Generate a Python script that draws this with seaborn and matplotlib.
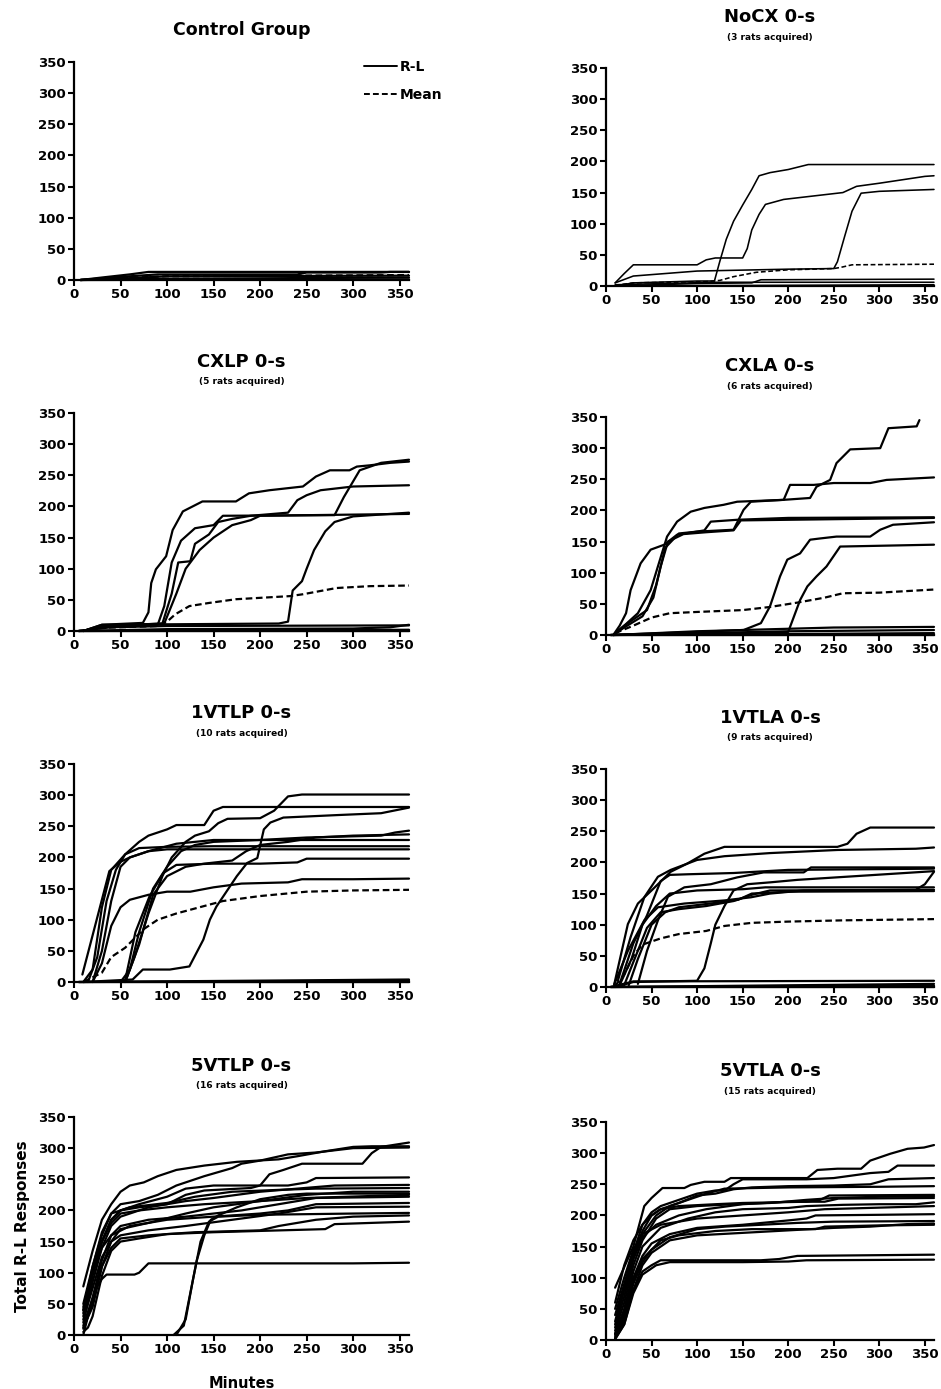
import matplotlib
matplotlib.use("Agg")
import matplotlib.pyplot as plt
from matplotlib.lines import Line2D
import pandas as pd
import seaborn as sns

# ---------------------------------------------------------------------------
# Cumulative R-L responses per rat (minutes, total responses) and group means
# ---------------------------------------------------------------------------
CONTROL_RATS = [
    ([7, 30, 60, 80, 360], [0, 4, 9, 13, 13]),
    ([7, 50, 90, 240, 250, 330, 340, 360], [0, 5, 9, 9, 12, 12, 13, 13]),
    ([7, 60, 100, 360], [0, 3, 6, 7]),
    ([7, 100, 360], [0, 2, 4]),
    ([7, 360], [0, 1]),
]
CONTROL_MEAN = ([7, 50, 100, 250, 360], [0, 3, 6, 7, 8])

NOCX_RATS = [
    ([10, 30, 100, 119, 125, 132, 140, 150, 160, 168, 180, 200, 222, 270, 360],
     [0, 5, 8, 8, 40, 75, 104, 130, 155, 177, 182, 187, 195, 195, 195]),
    ([10, 20, 30, 60, 100, 110, 120, 150, 155, 160, 168, 175, 195, 260, 275, 300, 350, 360],
     [5, 20, 34, 34, 34, 42, 45, 45, 60, 90, 115, 131, 139, 150, 160, 165, 176, 177]),
    ([10, 30, 100, 200, 250, 254, 262, 270, 280, 300, 360],
     [5, 16, 24, 27, 28, 39, 80, 120, 149, 152, 155]),
    ([10, 100, 160, 170, 360], [0, 4, 5, 10, 11]),
    ([10, 120, 360], [2, 6, 6]),
    ([10, 360], [0, 2]),
]
NOCX_MEAN = ([10, 30, 110, 125, 140, 165, 200, 250, 258, 270, 360],
             [1, 5, 7, 9, 15, 22, 26, 28, 30, 34, 35])

CXLP_RATS = [
    ([10, 30, 74, 80, 83, 88, 99, 106, 117, 138, 174, 188, 210, 246, 260, 275, 296, 304, 318, 340, 360],
     [0, 10, 13, 30, 77, 99, 120, 162, 192, 208, 208, 221, 226, 232, 248, 258, 258, 264, 266, 270, 272]),
    ([10, 30, 90, 97, 105, 115, 130, 150, 160, 280, 290, 307, 330, 360],
     [0, 8, 10, 40, 110, 145, 165, 170, 185, 186, 215, 258, 270, 275]),
    ([10, 30, 95, 105, 112, 125, 130, 145, 155, 170, 190, 230, 240, 250, 265, 300, 360],
     [0, 8, 12, 60, 110, 112, 140, 155, 175, 180, 185, 190, 210, 218, 226, 232, 234]),
    ([10, 30, 97, 110, 120, 135, 150, 170, 190, 200, 360],
     [0, 8, 12, 60, 100, 130, 150, 170, 178, 185, 188]),
    ([10, 30, 220, 230, 235, 245, 250, 258, 270, 280, 300, 360],
     [0, 10, 12, 15, 65, 80, 100, 130, 160, 175, 184, 190]),
    ([5, 40, 100, 360], [0, 6, 8, 9]),
    ([5, 100, 300, 340, 360], [0, 3, 4, 6, 10]),
    ([5, 360], [0, 2]),
    ([5, 360], [0, 0]),
]
CXLP_MEAN = ([5, 30, 90, 100, 109, 124, 145, 174, 232, 246, 282, 318, 360],
             [0, 5, 8, 15, 27, 40, 45, 51, 56, 59, 69, 72, 73])

CXLA_RATS = [
    ([8, 15, 22, 27, 38, 49, 64, 78, 100, 108, 115, 144, 200, 360],
     [0, 15, 35, 72, 115, 137, 145, 161, 166, 168, 182, 185, 188, 189]),
    ([8, 20, 35, 49, 58, 67, 78, 93, 108, 129, 144, 195, 202, 228, 250, 290, 308, 360],
     [0, 15, 35, 72, 115, 158, 182, 198, 204, 209, 214, 217, 241, 241, 244, 244, 249, 253]),
    ([8, 20, 35, 45, 55, 65, 80, 100, 140, 151, 159, 195, 224, 231, 246, 253, 268, 301, 310, 341, 344],
     [0, 15, 30, 40, 80, 140, 163, 166, 169, 201, 214, 217, 220, 238, 249, 276, 298, 300, 332, 335, 345]),
    ([8, 20, 40, 52, 60, 68, 85, 110, 140, 148, 360],
     [0, 12, 30, 60, 110, 150, 162, 165, 168, 184, 188]),
    ([8, 100, 151, 170, 180, 191, 199, 213, 224, 235, 253, 290, 301, 315, 360],
     [0, 6, 8, 19, 46, 94, 121, 131, 153, 155, 158, 158, 169, 177, 181]),
    ([8, 150, 200, 213, 221, 231, 242, 257, 360],
     [0, 3, 5, 56, 78, 94, 110, 142, 145]),
    ([5, 100, 150, 250, 360], [0, 5, 8, 12, 13]),
    ([5, 200, 360], [0, 6, 8]),
    ([5, 360], [0, 3]),
    ([5, 360], [0, 0]),
]
CXLA_MEAN = ([10, 30, 50, 70, 100, 150, 180, 210, 240, 260, 300, 360],
             [3, 15, 28, 35, 37, 40, 45, 52, 60, 67, 68, 73])

VTLP1_RATS = [
    ([10, 20, 30, 40, 55, 70, 80, 100, 110, 140, 150, 160, 360],
     [0, 20, 120, 180, 205, 225, 235, 245, 252, 252, 275, 281, 281]),
    ([55, 65, 80, 95, 105, 120, 130, 145, 155, 165, 200, 215, 230, 245, 360],
     [0, 40, 110, 170, 200, 225, 235, 242, 255, 262, 263, 275, 298, 301, 301]),
    ([10, 63, 74, 103, 124, 139, 146, 153, 175, 186, 197, 204, 211, 225, 283, 330, 360],
     [0, 4, 20, 20, 25, 68, 100, 121, 170, 191, 199, 245, 256, 264, 268, 271, 280]),
    ([50, 60, 70, 85, 100, 115, 130, 150, 200, 250, 330, 345, 360],
     [0, 20, 80, 150, 185, 210, 220, 225, 228, 232, 235, 240, 243]),
    ([55, 70, 85, 100, 120, 140, 170, 185, 200, 230, 260, 300, 360],
     [0, 60, 140, 170, 185, 190, 195, 210, 220, 225, 232, 235, 237]),
    ([20, 30, 40, 50, 60, 80, 110, 150, 360],
     [0, 50, 130, 185, 200, 210, 222, 228, 228]),
    ([15, 25, 35, 45, 55, 70, 100, 150, 250, 360],
     [0, 40, 130, 180, 205, 215, 217, 218, 218, 218]),
    ([9, 38, 50, 60, 80, 100, 360], [12, 178, 193, 200, 210, 213, 213]),
    ([55, 66, 81, 96, 110, 150, 200, 240, 250, 360],
     [3, 80, 137, 175, 188, 190, 190, 192, 198, 198]),
    ([20, 30, 40, 50, 60, 80, 100, 125, 150, 180, 230, 245, 300, 360],
     [0, 30, 90, 120, 132, 140, 145, 145, 152, 158, 160, 165, 165, 166]),
    ([5, 360], [0, 4]),
    ([5, 360], [0, 2]),
    ([5, 360], [0, 0]),
]
VTLP1_MEAN = ([10, 30, 40, 55, 65, 75, 90, 110, 140, 160, 200, 250, 300, 360],
              [0, 15, 40, 55, 70, 85, 100, 110, 122, 130, 138, 145, 147, 148])

VTLA1_RATS = [
    ([9, 24, 35, 50, 71, 89, 108, 130, 254, 265, 275, 290, 360],
     [4, 101, 134, 155, 185, 198, 214, 225, 225, 230, 246, 256, 256]),
    ([13, 27, 42, 57, 71, 100, 130, 180, 254, 340, 360],
     [10, 80, 144, 177, 188, 204, 210, 215, 220, 222, 224]),
    ([15, 30, 45, 60, 70, 90, 140, 200, 360],
     [5, 70, 115, 170, 180, 181, 183, 188, 190]),
    ([35, 45, 57, 68, 86, 115, 144, 173, 217, 225, 360],
     [5, 58, 107, 145, 160, 165, 176, 184, 184, 192, 192]),
    ([9, 24, 42, 57, 86, 130, 159, 180, 217, 340, 350, 360],
     [4, 58, 107, 128, 134, 139, 144, 150, 155, 156, 165, 185]),
    ([10, 30, 100, 108, 115, 120, 130, 140, 155, 180, 210, 360],
     [0, 8, 10, 30, 70, 100, 130, 155, 165, 168, 172, 186]),
    ([15, 28, 40, 55, 70, 100, 150, 175, 360],
     [3, 45, 100, 130, 150, 155, 157, 160, 160]),
    ([20, 30, 45, 60, 80, 110, 140, 160, 180, 360],
     [3, 40, 95, 120, 125, 130, 138, 148, 155, 156]),
    ([25, 35, 50, 65, 80, 120, 145, 160, 200, 360],
     [3, 45, 100, 120, 128, 135, 140, 150, 153, 154]),
    ([5, 30, 360], [0, 9, 10]),
    ([5, 360], [0, 5]),
    ([5, 360], [0, 2]),
    ([5, 360], [0, 0]),
]
VTLA1_MEAN = ([10, 20, 30, 40, 60, 80, 110, 130, 160, 200, 260, 360],
              [2, 20, 50, 68, 78, 85, 90, 98, 103, 105, 107, 109])

VTLP5_RATS = [
    ([10, 20, 30, 40, 50, 60, 75, 90, 110, 140, 175, 220, 240, 270, 300, 320, 360],
     [78, 135, 185, 210, 230, 240, 245, 255, 265, 272, 278, 282, 287, 295, 302, 303, 303]),
    ([10, 20, 30, 40, 50, 70, 90, 110, 140, 170, 180, 200, 230, 260, 300, 360],
     [50, 110, 165, 195, 210, 215, 225, 240, 255, 268, 275, 280, 290, 293, 300, 301]),
    ([10, 20, 30, 40, 50, 70, 100, 120, 140, 190, 200, 210, 225, 245, 310, 320, 330, 360],
     [40, 100, 150, 185, 200, 205, 210, 225, 232, 236, 240, 258, 265, 275, 275, 292, 302, 309]),
    ([10, 15, 22, 30, 35, 65, 70, 80, 200, 300, 360],
     [0, 30, 70, 90, 97, 97, 100, 115, 115, 115, 116]),
    ([10, 20, 30, 40, 50, 70, 100, 120, 150, 230, 250, 260, 360],
     [30, 95, 150, 185, 200, 210, 222, 235, 240, 240, 245, 252, 253]),
    ([10, 20, 30, 40, 50, 80, 120, 150, 200, 240, 280, 360],
     [20, 85, 140, 175, 190, 205, 215, 220, 230, 235, 240, 241]),
    ([10, 20, 30, 40, 60, 100, 130, 170, 220, 260, 360],
     [35, 110, 160, 195, 205, 212, 222, 230, 233, 235, 236]),
    ([10, 20, 30, 40, 50, 80, 120, 150, 200, 250, 300, 360],
     [10, 50, 110, 150, 170, 180, 195, 205, 215, 225, 230, 230]),
    ([10, 20, 30, 40, 50, 80, 120, 180, 240, 260, 360],
     [15, 60, 120, 160, 175, 185, 190, 200, 215, 220, 222]),
    ([10, 20, 30, 40, 60, 100, 150, 200, 230, 260, 360],
     [40, 100, 140, 160, 175, 185, 190, 195, 200, 210, 212]),
    ([10, 20, 30, 40, 50, 80, 120, 170, 220, 260, 360],
     [25, 75, 125, 150, 160, 168, 175, 185, 195, 205, 206]),
    ([10, 15, 20, 30, 40, 50, 70, 100, 130, 200, 220, 260, 300, 360],
     [5, 12, 30, 95, 135, 150, 155, 162, 165, 168, 175, 185, 190, 192]),
    ([10, 20, 30, 40, 50, 80, 100, 150, 270, 280, 360],
     [12, 45, 110, 140, 155, 160, 162, 165, 170, 178, 182]),
    ([107, 118, 124, 132, 140, 147, 155, 175, 200, 230, 250, 360],
     [0, 15, 60, 120, 160, 185, 192, 205, 218, 225, 227, 227]),
    ([110, 120, 128, 136, 145, 155, 200, 300, 360],
     [0, 25, 90, 150, 182, 190, 193, 195, 196]),
    ([10, 20, 30, 40, 50, 70, 100, 140, 200, 250, 360],
     [45, 105, 150, 180, 195, 200, 205, 210, 215, 220, 225]),
]

VTLA5_RATS = [
    ([10, 30, 42, 50, 62, 86, 93, 108, 130, 137, 221, 232, 254, 280, 290, 312, 331, 349, 360],
     [84, 150, 215, 228, 244, 244, 249, 254, 254, 260, 260, 273, 275, 275, 288, 299, 307, 309, 313]),
    ([10, 20, 30, 40, 50, 60, 80, 100, 120, 130, 140, 150, 220, 250, 290, 310, 320, 360],
     [40, 90, 140, 185, 205, 215, 225, 235, 240, 240, 250, 258, 258, 260, 268, 270, 280, 280]),
    ([10, 20, 30, 40, 50, 60, 80, 100, 120, 140, 160, 200, 250, 290, 310, 360],
     [30, 85, 135, 175, 200, 210, 220, 232, 235, 242, 245, 247, 248, 250, 258, 260]),
    ([10, 20, 30, 40, 55, 70, 90, 110, 130, 200, 300, 360],
     [20, 70, 130, 170, 200, 215, 225, 235, 243, 245, 246, 247]),
    ([10, 20, 30, 40, 55, 70, 100, 140, 180, 220, 250, 300, 360],
     [15, 60, 120, 160, 195, 210, 215, 218, 220, 225, 228, 230, 231]),
    ([10, 20, 30, 40, 55, 80, 110, 150, 200, 240, 255, 360],
     [25, 80, 130, 165, 185, 200, 210, 218, 222, 222, 227, 228]),
    ([10, 20, 30, 40, 60, 90, 120, 150, 200, 220, 260, 300, 340, 360],
     [10, 50, 110, 150, 180, 195, 205, 210, 212, 215, 217, 218, 218, 221]),
    ([10, 20, 30, 40, 50, 70, 100, 150, 200, 220, 230, 300, 360],
     [10, 45, 100, 135, 155, 170, 180, 185, 192, 195, 200, 201, 202]),
    ([10, 20, 30, 40, 50, 70, 100, 130, 170, 210, 250, 360],
     [5, 35, 90, 125, 145, 165, 178, 182, 185, 188, 190, 191]),
    ([10, 20, 30, 40, 60, 80, 120, 160, 230, 240, 300, 360],
     [8, 40, 95, 130, 160, 168, 175, 178, 178, 182, 184, 185]),
    ([10, 20, 30, 40, 50, 70, 100, 150, 200, 250, 290, 330, 360],
     [2, 25, 80, 120, 140, 160, 168, 172, 176, 180, 182, 186, 187]),
    ([10, 20, 30, 40, 50, 60, 100, 170, 190, 210, 360],
     [3, 30, 80, 110, 120, 128, 128, 128, 130, 135, 137]),
    ([10, 20, 30, 40, 55, 70, 150, 200, 220, 360],
     [1, 25, 75, 105, 120, 125, 125, 126, 128, 129]),
    ([10, 20, 30, 40, 50, 60, 80, 120, 150, 220, 235, 245, 360],
     [60, 120, 160, 185, 200, 210, 215, 218, 220, 222, 225, 232, 233]),
    ([10, 20, 30, 40, 60, 80, 100, 200, 240, 360],
     [50, 100, 145, 170, 185, 190, 195, 205, 210, 215]),
]

TICKS = [0, 50, 100, 150, 200, 250, 300, 350]

# (title, subtitle, rats, mean, column, row)
PANELS = [
    ("Control Group", None, CONTROL_RATS, CONTROL_MEAN, 0, 0),
    ("NoCX 0-s", "(3 rats acquired)", NOCX_RATS, NOCX_MEAN, 1, 0),
    ("CXLP 0-s", "(5 rats acquired)", CXLP_RATS, CXLP_MEAN, 0, 1),
    ("CXLA 0-s", "(6 rats acquired)", CXLA_RATS, CXLA_MEAN, 1, 1),
    ("1VTLP 0-s", "(10 rats acquired)", VTLP1_RATS, VTLP1_MEAN, 0, 2),
    ("1VTLA 0-s", "(9 rats acquired)", VTLA1_RATS, VTLA1_MEAN, 1, 2),
    ("5VTLP 0-s", "(16 rats acquired)", VTLP5_RATS, None, 0, 3),
    ("5VTLA 0-s", "(15 rats acquired)", VTLA5_RATS, None, 1, 3),
]


def panel_frame(rats, mean):
    rows = []
    for i, (xs, ys) in enumerate(rats):
        for x, y in zip(xs, ys):
            rows.append((x, y, f"rat{i}", "R-L"))
    if mean is not None:
        for x, y in zip(*mean):
            rows.append((x, y, "mean", "Mean"))
    return pd.DataFrame(rows, columns=["Minutes", "Responses", "unit", "kind"])


sns.set_style("ticks")
plt.rcParams["font.family"] = ["DejaVu Sans"]
plt.rcParams["font.weight"] = "bold"
for key in ("text.color", "axes.labelcolor", "xtick.color", "ytick.color",
            "axes.edgecolor"):
    plt.rcParams[key] = "black"

W, H = 941, 1389
fig = plt.figure(figsize=(W / 100, H / 100), dpi=100)

COL_BOX = [(74, 335), (606, 328)]
ROW_TOPS = [[62, 413, 764, 1117], [68, 417, 769, 1122]]
AX_H = 218

for title, subtitle, rats, mean, col, row in PANELS:
    left, width = COL_BOX[col]
    top = ROW_TOPS[col][row]
    ax = fig.add_axes([left / W, 1 - (top + AX_H) / H, width / W, AX_H / H])

    df = panel_frame(rats, mean)
    faint = title.startswith("NoCX")
    dashes = {"R-L": "", "Mean": (3, 1.6)}
    kinds = [k for k in ["R-L", "Mean"] if k in set(df["kind"])]
    sns.lineplot(data=df, x="Minutes", y="Responses", units="unit",
                 estimator=None, style="kind", style_order=kinds,
                 dashes={k: dashes[k] for k in kinds}, color="black",
                 linewidth=1.15 if faint else 1.6, sort=False,
                 legend=False, ax=ax)
    for ln in ax.lines:
        ln.set_clip_on(False)

    ax.set_xlim(0, 360)
    ax.set_ylim(0, 350)
    ax.set_xticks(TICKS)
    ax.set_yticks(TICKS)
    ax.set_xlabel("")
    ax.set_ylabel("")
    sns.despine(ax=ax)
    for s in ("left", "bottom"):
        ax.spines[s].set_linewidth(1.6)
    ax.tick_params(direction="out", length=4, width=1.5, labelsize=9.5, pad=2,
                   colors="black")

    if subtitle is None:
        ax.annotate(title, xy=(0.5, 1), xycoords="axes fraction",
                    xytext=(0, 32), textcoords="offset pixels",
                    ha="center", va="center", fontsize=12.5, fontweight="bold")
    else:
        ax.annotate(title, xy=(0.5, 1), xycoords="axes fraction",
                    xytext=(0, 51), textcoords="offset pixels",
                    ha="center", va="center", fontsize=13, fontweight="bold")
        ax.annotate(subtitle, xy=(0.5, 1), xycoords="axes fraction",
                    xytext=(0, 31), textcoords="offset pixels",
                    ha="center", va="center", fontsize=6.5, fontweight="bold")

    if row == 0 and col == 0:
        handles = [Line2D([], [], color="black", lw=1.4),
                   Line2D([], [], color="black", lw=1.4, dashes=(3, 1.6))]
        ax.legend(handles, ["R-L", "Mean"], loc="upper left",
                  bbox_to_anchor=(0.845, 1.04), frameon=False,
                  handlelength=2.4, handletextpad=0.2, labelspacing=1.0,
                  borderpad=0, prop={"size": 10, "weight": "bold"})

    if row == 3 and col == 0:
        ax.set_ylabel("Total R-L Responses", fontsize=11, fontweight="bold",
                      labelpad=6)
        ax.set_xlabel("Minutes", fontsize=10.5, fontweight="bold", labelpad=14)

fig.savefig("out.png", dpi=100)
